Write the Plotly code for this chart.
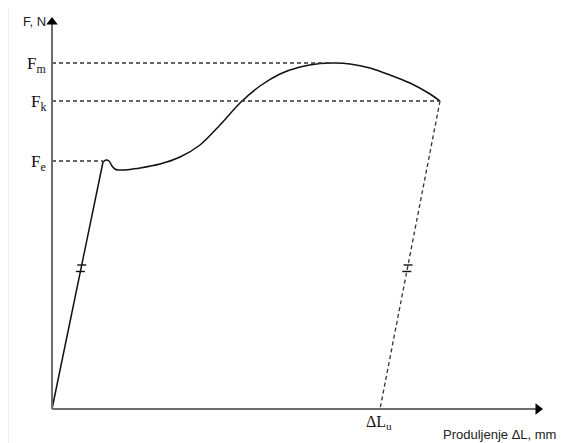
import plotly.graph_objects as go

# ---- data (ΔL in arbitrary mm units, F in arbitrary N units) ----
elastic_dL = [0.0, 5.1]
elastic_F = [0.0, 24.7]

hump_dL = [5.1, 5.4, 5.7, 6.0, 6.3, 6.6, 7.3]
hump_F = [24.7, 24.9, 24.8, 24.3, 24.0, 23.9, 23.9]

curve_dL = [7.3, 8.8, 10.8, 12.8, 14.8, 16.8, 18.8, 20.8, 22.8, 24.8, 26.8,
            28.3, 29.8, 31.8, 33.8, 35.8, 37.8, 38.8]
curve_F = [23.9, 24.1, 24.5, 25.2, 26.4, 28.4, 30.6, 32.3, 33.5, 34.2, 34.55,
           34.6, 34.5, 34.1, 33.4, 32.6, 31.5, 30.8]

F_e, F_k, F_m = 24.8, 30.8, 34.6
dL_m, dL_k = 27.8, 38.8
dL_u = 32.8

tick_F = 14.1
x_end, y_end = 49.0, 39.1

level_labels = ["F<sub>m</sub>", "F<sub>k</sub>", "F<sub>e</sub>"]
level_values = [F_m, F_k, F_e]

fig = go.Figure()

ink = "#111111"
dash_col = "#333333"

# elastic line
fig.add_trace(go.Scatter(x=elastic_dL, y=elastic_F, mode="lines",
                         line=dict(color=ink, width=1.5), hoverinfo="skip"))
# yield hump
fig.add_trace(go.Scatter(x=hump_dL, y=hump_F, mode="lines",
                         line=dict(color=ink, width=1.5, shape="spline", smoothing=0.6),
                         hoverinfo="skip"))
# main curve
fig.add_trace(go.Scatter(x=curve_dL, y=curve_F, mode="lines",
                         line=dict(color=ink, width=1.5, shape="spline", smoothing=0.8),
                         hoverinfo="skip"))
# unloading dashed line
fig.add_trace(go.Scatter(x=[dL_k, dL_u], y=[F_k, 0], mode="lines",
                         line=dict(color=dash_col, width=1.3, dash="4px,3px"),
                         hoverinfo="skip"))
# horizontal dashed levels
for F, xe in [(F_m, dL_m), (F_k, dL_k), (F_e, 5.1)]:
    fig.add_trace(go.Scatter(x=[0, xe], y=[F, F], mode="lines",
                             line=dict(color=dash_col, width=1.3, dash="4px,3px"),
                             hoverinfo="skip"))

# parallel tick marks ("=") on elastic and unloading lines
def x_on(x0, y0, x1, y1, y):
    return x0 + (x1 - x0) * (y - y0) / (y1 - y0)

for (x0, y0, x1, y1) in [(0, 0, elastic_dL[1], elastic_F[1]), (dL_u, 0, dL_k, F_k)]:
    for dy in (0.3, -0.35):
        xc = x_on(x0, y0, x1, y1, tick_F + dy)
        fig.add_trace(go.Scatter(x=[xc - 0.45, xc + 0.45], y=[tick_F + dy, tick_F + dy],
                                 mode="lines", line=dict(color=ink, width=1.4),
                                 hoverinfo="skip"))

# axes
axis_col = "#6e6e6e"
fig.add_trace(go.Scatter(x=[0, 0], y=[0, y_end - 0.6], mode="lines",
                         line=dict(color=axis_col, width=2), hoverinfo="skip"))
fig.add_trace(go.Scatter(x=[0, x_end - 0.6], y=[0, 0], mode="lines",
                         line=dict(color=axis_col, width=2), hoverinfo="skip"))
fig.add_trace(go.Scatter(x=[0], y=[y_end - 0.4], mode="markers",
                         marker=dict(symbol="triangle-up", size=10, color="#000"),
                         hoverinfo="skip"))
fig.add_trace(go.Scatter(x=[x_end - 0.4], y=[0], mode="markers",
                         marker=dict(symbol="triangle-right", size=10, color="#000"),
                         hoverinfo="skip"))

serif = "Liberation Serif"
sans = "Liberation Sans"

ann = []
for lab, v in zip(level_labels, level_values):
    ann.append(dict(x=-0.4, y=v, text=lab, showarrow=False, xanchor="right",
                    yanchor="middle", yshift=-2,
                    font=dict(family=serif, size=17, color=ink)))
ann.append(dict(x=-0.4, y=y_end - 0.3, text="F, N", showarrow=False, xanchor="right",
                yanchor="middle", font=dict(family=sans, size=13, color="#222")))
ann.append(dict(x=dL_u - 0.1, y=-1.3, text="ΔL<sub>u</sub>", showarrow=False,
                xanchor="center", yanchor="middle",
                font=dict(family=serif, size=16, color=ink)))
ann.append(dict(x=x_end + 1.6, y=-2.5, text="Produljenje ΔL, mm", showarrow=False,
                xanchor="right", yanchor="middle",
                font=dict(family=sans, size=13, color="#222")))

# page body has an 8px margin: figure covers page pixels 8..566 / 8..443
fig.update_layout(
    width=558, height=435,
    margin=dict(l=0, r=0, t=0, b=0),
    paper_bgcolor="white", plot_bgcolor="white",
    showlegend=False,
    xaxis=dict(range=[-4.4, 51.4], visible=False, fixedrange=True),
    yaxis=dict(range=[-3.4, 40.1], visible=False, fixedrange=True),
    annotations=ann,
    shapes=[dict(type="line", xref="paper", yref="paper", x0=0.001, x1=0.001,
                 y0=0, y1=1, line=dict(color="#f0f0f0", width=1))],
)

fig.write_html("out.html")
